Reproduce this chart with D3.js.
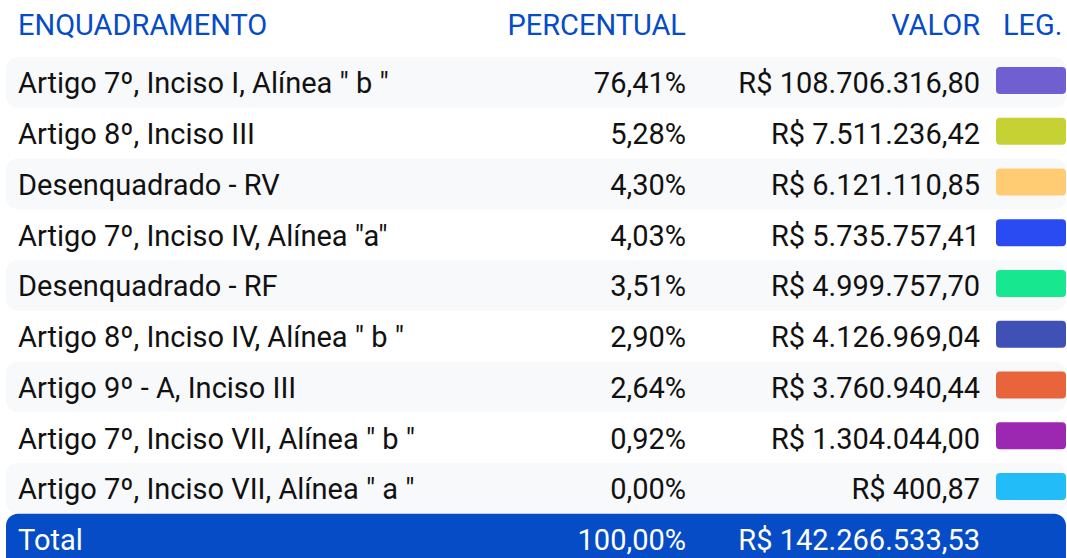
<!DOCTYPE html>
<html>
<head>
<meta charset="utf-8">
<script src="https://cdn.jsdelivr.net/npm/d3@7"></script>
<style>
  html, body { margin: 0; padding: 0; background: #fff; overflow: hidden; }
  svg text { font-family: Roboto, "Noto Sans", sans-serif; font-size: 29px; }
</style>
</head>
<body>
<div id="chart"></div>
<script>
// table data
const categories = [
    'Artigo 7º, Inciso I, Alínea " b "',
    'Artigo 8º, Inciso III',
    'Desenquadrado - RV',
    'Artigo 7º, Inciso IV, Alínea "a"',
    'Desenquadrado - RF',
    'Artigo 8º, Inciso IV, Alínea " b "',
    'Artigo 9º - A, Inciso III',
    'Artigo 7º, Inciso VII, Alínea " b "',
    'Artigo 7º, Inciso VII, Alínea " a "'
];
const percents = [76.41, 5.28, 4.30, 4.03, 3.51, 2.90, 2.64, 0.92, 0.00];
const values = [108706316.80, 7511236.42, 6121110.85, 5735757.41, 4999757.70, 4126969.04, 3760940.44, 1304044.00, 400.87];
const legendColors = ['#6f5fd1', '#c6d233', '#ffcb73', '#2a4bf2', '#17e890', '#3f51b5', '#e8643a', '#9c27b0', '#22bcf8'];
const headers = ['ENQUADRAMENTO', 'PERCENTUAL', 'VALOR', 'LEG.'];
const totalLabel = 'Total';
const totalPercent = 100.00;
const totalValue = 142266533.53;

const width = 1067, height = 558;

const ptBR = d3.formatLocale({ decimal: ',', thousands: '.', grouping: [3], currency: ['R$ ', ''] });
const fmtPct = v => ptBR.format(',.2f')(v) + '%';
const fmtVal = v => 'R$ ' + ptBR.format(',.2f')(v);

const svg = d3.select('#chart').append('svg')
    .attr('width', width)
    .attr('height', height);

// rows: 9 categories + total
const rowKeys = categories.concat([totalLabel]);
const y = d3.scaleBand()
    .domain(rowKeys)
    .range([57, 57 + 50.75 * rowKeys.length])
    .padding(0);

const color = d3.scaleOrdinal().domain(categories).range(legendColors);

const colX = { name: 18, pct: 686, val: 980, leg: 1003 };
const blue = '#054cc6';
const textDy = '0.38em';

// header
const head = svg.append('g').attr('class', 'header');
head.selectAll('text')
    .data(headers)
    .join('text')
    .attr('x', (d, i) => [colX.name, colX.pct, colX.val, colX.leg][i])
    .attr('y', 24)
    .attr('dy', textDy)
    .attr('text-anchor', (d, i) => (i === 1 || i === 2) ? 'end' : 'start')
    .attr('fill', blue)
    .text(d => d);

// striped background on odd rows
svg.append('g')
    .selectAll('rect')
    .data(categories.filter((d, i) => i % 2 === 0))
    .join('rect')
    .attr('x', 6)
    .attr('y', d => y(d))
    .attr('width', 1060)
    .attr('height', y.bandwidth())
    .attr('rx', 12)
    .attr('fill', '#f8f9fb');

const rows = svg.append('g')
    .selectAll('g')
    .data(categories.map((c, i) => ({ name: c, pct: percents[i], val: values[i] })))
    .join('g')
    .attr('transform', d => `translate(0,${y(d.name) + y.bandwidth() / 2})`);

rows.append('text')
    .attr('x', colX.name)
    .attr('dy', textDy)
    .attr('fill', '#111')
    .text(d => d.name);

rows.append('text')
    .attr('x', colX.pct)
    .attr('dy', textDy)
    .attr('text-anchor', 'end')
    .attr('fill', '#111')
    .text(d => fmtPct(d.pct));

rows.append('text')
    .attr('x', colX.val)
    .attr('dy', textDy)
    .attr('text-anchor', 'end')
    .attr('fill', '#111')
    .text(d => fmtVal(d.val));

rows.append('rect')
    .attr('x', 996)
    .attr('y', -15.5)
    .attr('width', 70)
    .attr('height', 27)
    .attr('rx', 4)
    .attr('fill', d => color(d.name));

// total row
const tot = svg.append('g')
    .attr('transform', `translate(0,${y(totalLabel)})`);

tot.append('rect')
    .attr('x', 6)
    .attr('y', 0)
    .attr('width', 1060)
    .attr('height', y.bandwidth() + 12)
    .attr('rx', 12)
    .attr('fill', blue);

const totText = [
    { x: colX.name, anchor: 'start', t: totalLabel },
    { x: colX.pct, anchor: 'end', t: fmtPct(totalPercent) },
    { x: colX.val, anchor: 'end', t: fmtVal(totalValue) }
];
tot.selectAll('text')
    .data(totText)
    .join('text')
    .attr('x', d => d.x)
    .attr('y', y.bandwidth() / 2)
    .attr('dy', textDy)
    .attr('text-anchor', d => d.anchor)
    .attr('fill', '#fff')
    .text(d => d.t);
</script>
</body>
</html>
